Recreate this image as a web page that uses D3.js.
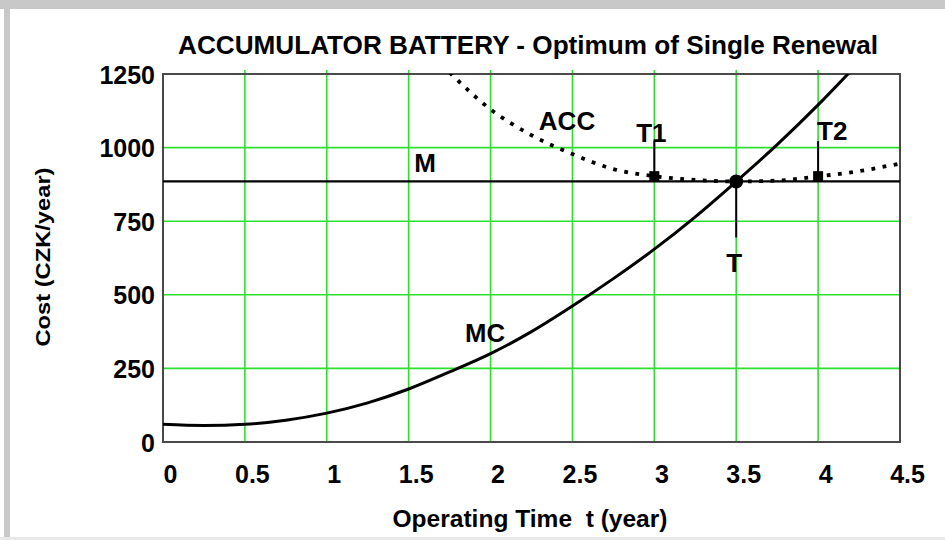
<!DOCTYPE html>
<html>
<head lang="en">
    <meta charset="UTF-8">
    <title>Accumulator battery</title>
    <style>
        body { margin: 0; background: #fff; }
        text { font-family: "Liberation Sans", Arial, sans-serif; font-weight: bold; fill: #000; }
    </style>
</head>
<body>
<svg width="945" height="540"></svg>
<script src="https://cdn.jsdelivr.net/npm/d3@7"></script>
<script>
    // values
    var xTicks = [0, 0.5, 1, 1.5, 2, 2.5, 3, 3.5, 4, 4.5];
    var xTickLabels = ["0", "0.5", "1", "1.5", "2", "2.5", "3", "3.5", "4", "4.5"];
    var yTicks = [0, 250, 500, 750, 1000, 1250];
    var yTickLabels = ["0", "250", "500", "750", "1000", "1250"];

    var mcT = [0, 0.25, 0.5, 0.75, 1, 1.25, 1.5, 1.75, 2, 2.25, 2.5, 2.75, 3, 3.25, 3.5, 3.75, 4, 4.25];
    var mcCost = [60, 56, 60, 74, 98, 133, 180, 238, 300, 375, 462, 555, 655, 765, 885, 1010, 1145, 1290];

    var accT = [1.75, 2, 2.25, 2.5, 2.75, 3, 3.25, 3.5, 3.75, 4, 4.25, 4.5];
    var accCost = [1255, 1130, 1042, 978, 927, 903, 890, 885, 888, 902, 920, 946];

    var mLevel = 885;
    var optimumT = 3.5;
    var boundNames = ["T1", "T2"];
    var boundT = [3.0, 4.0];
    var boundCost = [903, 903];

    var svg = d3.select("svg"),
            MARGINS = {top: 74, right: 45, bottom: 98, left: 163},
            WIDTH = +svg.attr("width"),
            HEIGHT = +svg.attr("height");

    // gray frame of the original screenshot
    svg.append("rect").attr("x", 0).attr("y", 0).attr("width", WIDTH).attr("height", 9).attr("fill", "#c8c8c8");
    svg.append("rect").attr("x", 4).attr("y", 0).attr("width", 6).attr("height", HEIGHT).attr("fill", "#c8c8c8");
    svg.append("rect").attr("x", 0).attr("y", 537).attr("width", WIDTH).attr("height", 3).attr("fill", "#e8e8e8");

    var xScale = d3.scaleLinear().domain([0, 4.5]).range([MARGINS.left, WIDTH - MARGINS.right]);
    var yScale = d3.scaleLinear().domain([0, 1250]).range([HEIGHT - MARGINS.bottom, MARGINS.top]);

    // grid
    svg.append("g").selectAll("line").data(xTicks.slice(1, -1)).enter().append("line")
            .attr("x1", function (d) { return xScale(d); })
            .attr("x2", function (d) { return xScale(d); })
            .attr("y1", yScale(1250) - 4).attr("y2", yScale(0))
            .attr("stroke", "#2ee02e").attr("stroke-width", 1.6);
    svg.append("g").selectAll("line").data(yTicks.slice(1, -1)).enter().append("line")
            .attr("x1", xScale(0)).attr("x2", xScale(4.5))
            .attr("y1", function (d) { return yScale(d); })
            .attr("y2", function (d) { return yScale(d); })
            .attr("stroke", "#2ee02e").attr("stroke-width", 1.6);

    // plot border
    svg.append("rect")
            .attr("x", xScale(0)).attr("y", yScale(1250))
            .attr("width", xScale(4.5) - xScale(0)).attr("height", yScale(0) - yScale(1250))
            .attr("fill", "none").attr("stroke", "#4a4a4a").attr("stroke-width", 2);

    // axes (labels only)
    var xAxis = d3.axisBottom(xScale).tickValues(xTicks).tickSize(0).tickPadding(23)
            .tickFormat(function (d, i) { return xTickLabels[i]; });
    var gx = svg.append("g")
            .attr("transform", "translate(7," + yScale(0) + ")")
            .call(xAxis);
    gx.select(".domain").remove();
    gx.selectAll("text").attr("font-size", 25).attr("font-family", null);

    var yAxis = d3.axisLeft(yScale).tickValues(yTicks).tickSize(0).tickPadding(8)
            .tickFormat(function (d, i) { return yTickLabels[i]; });
    var gy = svg.append("g")
            .attr("transform", "translate(" + xScale(0) + ",1)")
            .call(yAxis);
    gy.select(".domain").remove();
    gy.selectAll("text").attr("font-size", 25).attr("font-family", null);

    svg.append("defs").append("clipPath").attr("id", "plot")
            .append("rect")
            .attr("x", xScale(0)).attr("y", yScale(1250))
            .attr("width", xScale(4.5) - xScale(0)).attr("height", yScale(0) - yScale(1250));

    var plot = svg.append("g").attr("clip-path", "url(#plot)");

    // M level
    plot.append("line")
            .attr("x1", xScale(0)).attr("x2", xScale(4.5))
            .attr("y1", yScale(mLevel)).attr("y2", yScale(mLevel))
            .attr("stroke", "#000").attr("stroke-width", 2.2);

    var lineGen = d3.line()
            .x(function (d) { return xScale(d[0]); })
            .y(function (d) { return yScale(d[1]); })
            .curve(d3.curveMonotoneX);

    plot.append("path")
            .attr("d", lineGen(d3.zip(accT, accCost)))
            .attr("fill", "none").attr("stroke", "#000")
            .attr("stroke-width", 3.8).attr("stroke-dasharray", "3.8,7.5");

    plot.append("path")
            .attr("d", lineGen(d3.zip(mcT, mcCost)))
            .attr("fill", "none").attr("stroke", "#000").attr("stroke-width", 3);

    // T1, T2 markers
    boundT.forEach(function (t, i) {
        svg.append("line")
                .attr("x1", xScale(t)).attr("x2", xScale(t))
                .attr("y1", yScale(boundCost[i])).attr("y2", yScale(boundCost[i]) - 35)
                .attr("stroke", "#000").attr("stroke-width", 2);
        svg.append("rect")
                .attr("x", xScale(t) - 5).attr("y", yScale(boundCost[i]) - 5)
                .attr("width", 10).attr("height", 10).attr("fill", "#000");
    });
    svg.append("text").attr("x", xScale(boundT[0]) - 3).attr("y", 142)
            .attr("text-anchor", "middle").attr("font-size", 26).text(boundNames[0]);
    svg.append("text").attr("x", xScale(boundT[1]) - 1).attr("y", 140)
            .attr("font-size", 26).text(boundNames[1]);

    // optimum T
    svg.append("line")
            .attr("x1", xScale(optimumT)).attr("x2", xScale(optimumT))
            .attr("y1", yScale(mLevel)).attr("y2", yScale(mLevel) + 56)
            .attr("stroke", "#000").attr("stroke-width", 2);
    svg.append("circle")
            .attr("cx", xScale(optimumT)).attr("cy", yScale(mLevel)).attr("r", 7)
            .attr("fill", "#000");
    svg.append("text").attr("x", xScale(optimumT) - 2).attr("y", 272)
            .attr("text-anchor", "middle").attr("font-size", 26).text("T");

    // curve labels
    svg.append("text").attr("x", 425).attr("y", 172).attr("text-anchor", "middle")
            .attr("font-size", 26).text("M");
    svg.append("text").attr("x", 567).attr("y", 130).attr("text-anchor", "middle")
            .attr("font-size", 26).attr("font-weight", "normal").text("ACC");
    svg.append("text").attr("x", 485).attr("y", 342).attr("text-anchor", "middle")
            .attr("font-size", 26).attr("textLength", 40).attr("lengthAdjust", "spacingAndGlyphs").text("MC");

    // titles
    svg.append("text").attr("x", 528).attr("y", 54).attr("text-anchor", "middle")
            .attr("font-size", 25).attr("textLength", 700).attr("lengthAdjust", "spacingAndGlyphs")
            .text("ACCUMULATOR BATTERY - Optimum of Single Renewal");
    svg.append("text").attr("x", 530).attr("y", 527).attr("text-anchor", "middle")
            .attr("font-size", 23).attr("textLength", 275).attr("lengthAdjust", "spacingAndGlyphs")
            .attr("xml:space", "preserve")
            .text("Operating Time  t (year)");
    svg.append("text")
            .attr("transform", "translate(50,257) rotate(-90)")
            .attr("text-anchor", "middle")
            .attr("font-size", 21).attr("textLength", 179).attr("lengthAdjust", "spacingAndGlyphs")
            .text("Cost (CZK/year)");
</script>
</body>
</html>
